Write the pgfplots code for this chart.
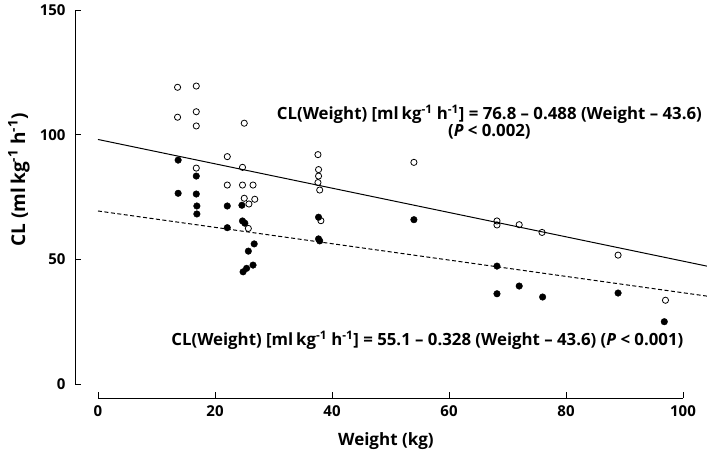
\documentclass[border=0pt]{standalone}
\usepackage{fontspec}
\setmainfont{Open Sans}
\usepackage{pgfplots}
\pgfplotsset{compat=1.18}
\newcommand{\ann}{\fontsize{16.8bp}{19bp}\selectfont\bfseries}
\begin{document}
\begin{tikzpicture}
\begin{axis}[
  scale only axis, width=632bp, height=388bp,
  xmin=-3.93, xmax=104.1, ymin=-5.6, ymax=150,
  axis x line*=bottom, axis y line*=left,
  axis line style={draw=none},
  tick align=inside, major tick length=6bp,
  xtick={0,20,40,60,80,100}, ytick={0,50,100,150},
  tick style={black, line width=0.8pt},
  ticklabel style={font=\fontsize{15bp}{16bp}\selectfont\bfseries},
  /pgf/number format/assume math mode=true,
  xticklabel style={yshift=-4bp},
  yticklabel style={xshift=-6bp},
  xlabel={Weight (kg)},
  ylabel={CL (ml\,kg\textsuperscript{-1} h\textsuperscript{-1})},
  xlabel style={font=\fontsize{17bp}{19bp}\selectfont\bfseries, at={(axis description cs:0.492,-0.111)}, anchor=center},
  ylabel style={font=\fontsize{19bp}{21bp}\selectfont\bfseries, at={(axis description cs:-0.0886,0.562)}, anchor=center},
  clip=false,
]
\draw[line width=0.8pt] (axis cs:-3.93,0) -- (axis cs:-3.93,150);
\draw[line width=0.8pt] (axis cs:0,-5.6) -- (axis cs:100,-5.6);

% regression lines
\addplot[black, line width=1pt] coordinates {(0,98.08) (104.1,47.28)};
\addplot[black, line width=1pt, dash pattern=on 4bp off 2.5bp] coordinates {(0,69.40) (104.1,35.26)};

% open circles
\addplot[only marks, mark=o, mark size=3.1bp, mark options={fill=white, line width=0.8pt, draw=black}] coordinates {
(13.6,119.0) (16.8,119.5) (13.6,107.0) (16.8,109.2) (16.8,103.5)
(25.0,104.6) (22.1,91.2) (16.8,86.6) (24.7,86.9) (22.1,79.8)
(24.7,79.8) (26.5,79.8) (25.0,74.5) (26.8,74.1) (25.8,72.2)
(25.7,62.4) (37.6,92.0) (37.7,86.0) (37.7,83.4) (37.6,80.8)
(37.9,77.8) (54.0,88.9) (38.1,65.5) (68.2,65.4) (68.2,63.8)
(72.0,63.9) (75.9,60.8) (88.9,51.7) (97.0,33.6)
};

% filled circles
\addplot[only marks, mark=*, mark size=3.3bp, mark options={fill=black, draw=black}] coordinates {
(13.7,89.8) (16.8,83.4) (13.7,76.5) (16.8,76.2) (16.9,71.4)
(16.9,68.2) (22.1,71.4) (24.6,71.7) (22.1,62.7) (24.7,65.4)
(25.1,64.5) (26.7,56.2) (25.7,53.3) (26.5,47.7) (25.4,46.4)
(24.8,45.0) (37.7,66.9) (37.7,58.2) (37.9,57.4) (54.0,65.9)
(68.2,47.3) (68.2,36.2) (72.0,39.3) (76.0,34.9) (88.9,36.5)
(96.8,25.0)
};

\node[font=\ann, inner sep=0pt] at (axis cs:66.9,108.3) {CL(Weight) [ml\,kg\textsuperscript{-1} h\textsuperscript{-1}] = 76.8 – 0.488 (Weight – 43.6)};
\node[font=\ann, inner sep=0pt] at (axis cs:66.9,101.3) {(\textit{P} < 0.002)};
\node[font=\ann, inner sep=0pt] at (axis cs:56.3,17.6) {CL(Weight) [ml\,kg\textsuperscript{-1} h\textsuperscript{-1}] = 55.1 – 0.328 (Weight – 43.6) (\textit{P} < 0.001)};
\end{axis}
\pgfresetboundingbox
\path[use as bounding box] (-75bp,-56bp) rectangle (632bp,398bp);
\end{tikzpicture}
\end{document}
